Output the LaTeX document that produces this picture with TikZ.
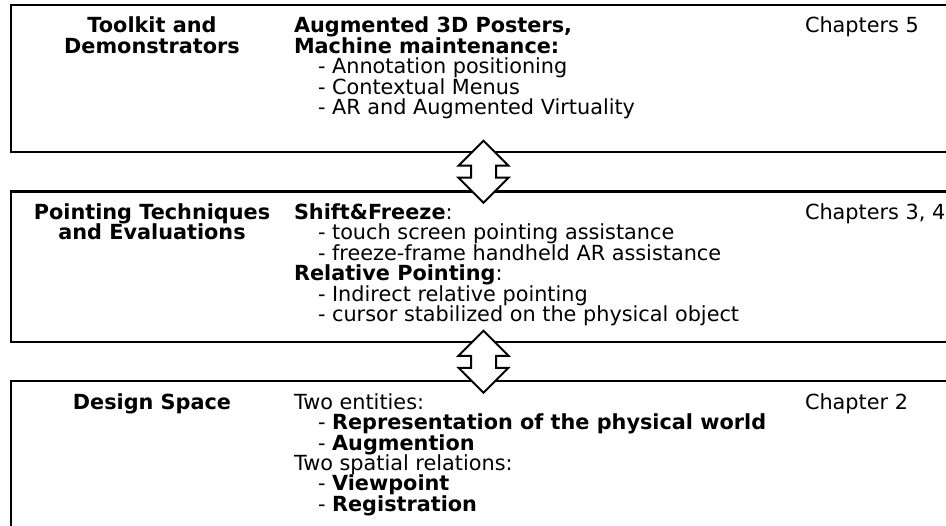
\documentclass[tikz,border=0pt]{standalone}
\usepackage{fontspec}
\setmainfont{DejaVu Sans}
\usetikzlibrary{calc}
\newcommand\fs{\fontsize{20.8pt}{20.4pt}\selectfont}
\newcommand\block[1]{\vtop{\baselineskip=20.4pt\lineskiplimit=-100pt\lineskip=0pt\relax #1}}
\newcommand\ctr[1]{\hbox to 0pt{\hss #1\hss}}
\newcommand\oneline[1]{\hbox{#1}}
\newcommand\ind{\hskip 24pt}
\begin{document}
\begin{tikzpicture}[x=1pt,y=-1pt,
  box/.style={draw=black, line width=2.2pt, outer sep=0pt, inner sep=0pt, anchor=north west, minimum width=949pt},
  dblarrow/.style={draw=black, fill=white, line width=2pt, line join=miter},
  txt/.style={inner sep=0pt, outer sep=0pt, anchor=base west, font=\fs},
  head/.style={inner sep=0pt, outer sep=0pt, anchor=base, font=\fs\bfseries}]
\fill[white] (0,0) rectangle (946,526);
\useasboundingbox (0,0) rectangle (946,526);
\clip (0,0) rectangle (946,526);
% boxes
\node[box, minimum height=147pt] (b1) at (11,5) {};
\node[box, minimum height=150.8pt] (b2) at (11,191.5) {};
\node[box, minimum height=170pt] (b3) at (11,381.3) {};
% double arrows between boxes
\coordinate (m1) at ($(b1.south west)!0.5!(b2.north west)+(472.5,0)$);
\coordinate (m2) at ($(b2.south west)!0.5!(b3.north west)+(472.5,0)$);
\foreach \m in {m1,m2}{
  \draw[dblarrow] ($(\m)+(0,-31)$) -- ++(25,25) -- ++(-12.5,0) -- ++(0,12) -- ++(12.5,0)
    -- ++(-25,25) -- ++(-25,-25) -- ++(12.5,0) -- ++(0,-12) -- ++(-12.5,0) -- cycle;
}
% box 1
\node[head] (h1) at ($(b1.north west)+(141,28)$) {\block{\ctr{Toolkit and}\ctr{Demonstrators}}};
\node[txt] (c1) at ($(b1.north west)+(283,28)$) {\block{%
  \oneline{\textbf{Augmented 3D Posters,}}%
  \oneline{\textbf{Machine maintenance:}}%
  \oneline{\ind- Annotation positioning}%
  \oneline{\ind- Contextual Menus}%
  \oneline{\ind- AR and Augmented Virtuality}}};
\node[txt] (r1) at ($(b1.north west)+(794,28)$) {Chapters 5};
% box 2
\node[head] (h2) at ($(b2.north west)+(141,28)$) {\block{\ctr{Pointing Techniques}\ctr{and Evaluations}}};
\node[txt] (c2) at ($(b2.north west)+(283,28)$) {\block{%
  \oneline{\textbf{Shift\&Freeze}:}%
  \oneline{\ind- touch screen pointing assistance}%
  \oneline{\ind- freeze-frame handheld AR assistance}%
  \oneline{\textbf{Relative Pointing}:}%
  \oneline{\ind- Indirect relative pointing}%
  \oneline{\ind- cursor stabilized on the physical object}}};
\node[txt] (r2) at ($(b2.north west)+(794,28)$) {Chapters 3, 4};
% box 3
\node[head] (h3) at ($(b3.north west)+(141,28)$) {\block{\ctr{Design Space}}};
\node[txt] (c3) at ($(b3.north west)+(283,28)$) {\block{%
  \oneline{Two entities:}%
  \oneline{\ind- \textbf{Representation of the physical world}}%
  \oneline{\ind- \textbf{Augmention}}%
  \oneline{Two spatial relations:}%
  \oneline{\ind- \textbf{Viewpoint}}%
  \oneline{\ind- \textbf{Registration}}}};
\node[txt] (r3) at ($(b3.north west)+(794,28)$) {Chapter 2};
\end{tikzpicture}
\end{document}
